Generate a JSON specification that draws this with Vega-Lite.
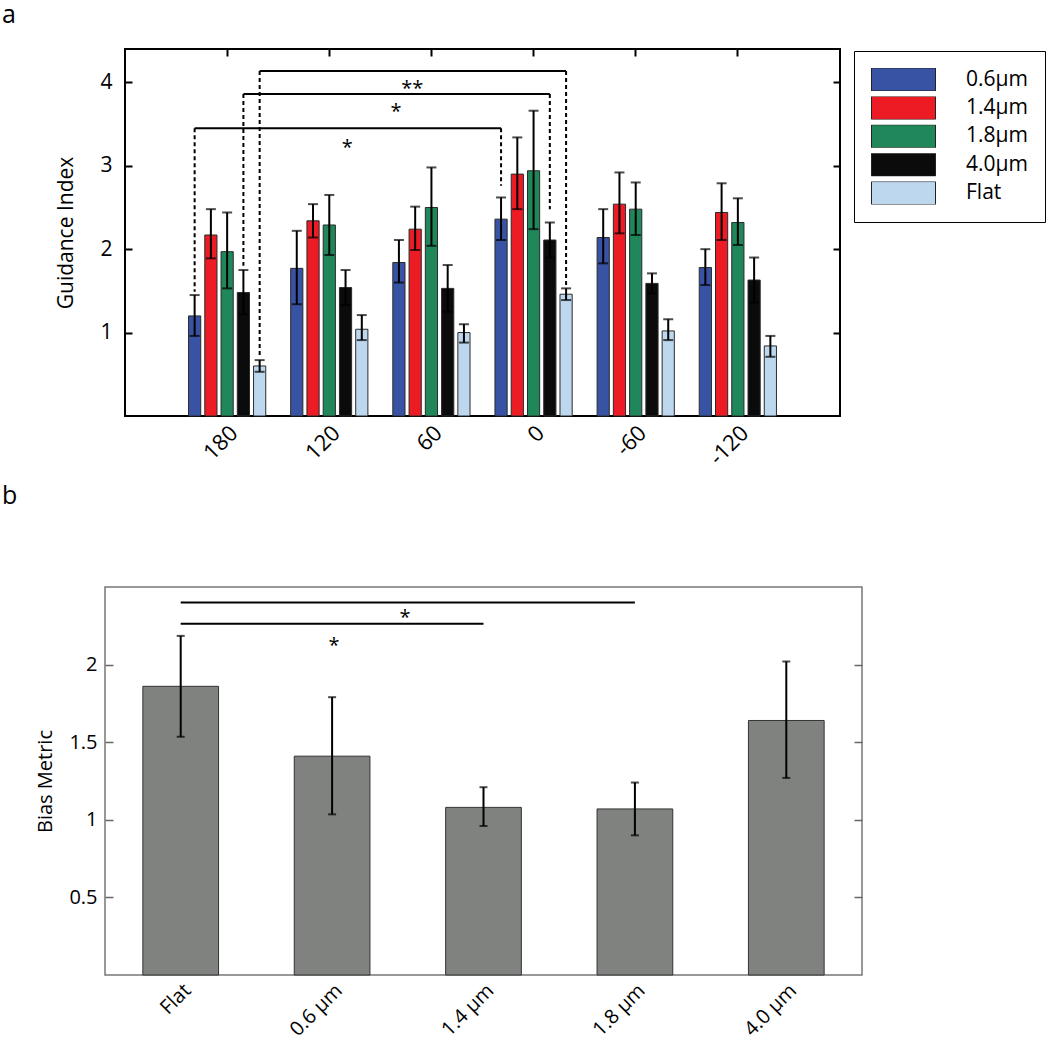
{
  "$schema": "https://vega.github.io/schema/vega-lite/v6.json",
  "padding": {"top": 2, "left": 0, "right": 0, "bottom": 0},
  "background": "white",
  "config": {
    "font": "Open Sans",
    "axis": {"labelColor": "black", "titleColor": "black", "labelFont": "Open Sans", "titleFont": "Open Sans", "titleFontWeight": "normal", "grid": false},
    "text": {"font": "Open Sans"},
    "title": {"font": "Open Sans", "fontWeight": "normal", "color": "black"}
  },
  "datasets": {
    "ga": [
      {"angle": "180", "size": "0.6μm", "gi": 1.20, "lo": 0.96, "hi": 1.45},
      {"angle": "180", "size": "1.4μm", "gi": 2.17, "lo": 1.89, "hi": 2.48},
      {"angle": "180", "size": "1.8μm", "gi": 1.97, "lo": 1.53, "hi": 2.44},
      {"angle": "180", "size": "4.0μm", "gi": 1.48, "lo": 1.22, "hi": 1.75},
      {"angle": "180", "size": "Flat", "gi": 0.60, "lo": 0.53, "hi": 0.67},
      {"angle": "120", "size": "0.6μm", "gi": 1.77, "lo": 1.34, "hi": 2.22},
      {"angle": "120", "size": "1.4μm", "gi": 2.34, "lo": 2.14, "hi": 2.54},
      {"angle": "120", "size": "1.8μm", "gi": 2.29, "lo": 1.93, "hi": 2.65},
      {"angle": "120", "size": "4.0μm", "gi": 1.54, "lo": 1.33, "hi": 1.75},
      {"angle": "120", "size": "Flat", "gi": 1.04, "lo": 0.91, "hi": 1.21},
      {"angle": "60", "size": "0.6μm", "gi": 1.84, "lo": 1.60, "hi": 2.11},
      {"angle": "60", "size": "1.4μm", "gi": 2.24, "lo": 1.99, "hi": 2.51},
      {"angle": "60", "size": "1.8μm", "gi": 2.50, "lo": 2.04, "hi": 2.98},
      {"angle": "60", "size": "4.0μm", "gi": 1.53, "lo": 1.25, "hi": 1.81},
      {"angle": "60", "size": "Flat", "gi": 1.00, "lo": 0.88, "hi": 1.10},
      {"angle": "0", "size": "0.6μm", "gi": 2.36, "lo": 2.11, "hi": 2.62},
      {"angle": "0", "size": "1.4μm", "gi": 2.90, "lo": 2.48, "hi": 3.34},
      {"angle": "0", "size": "1.8μm", "gi": 2.94, "lo": 2.24, "hi": 3.66},
      {"angle": "0", "size": "4.0μm", "gi": 2.11, "lo": 1.90, "hi": 2.32},
      {"angle": "0", "size": "Flat", "gi": 1.46, "lo": 1.39, "hi": 1.53},
      {"angle": "-60", "size": "0.6μm", "gi": 2.14, "lo": 1.83, "hi": 2.48},
      {"angle": "-60", "size": "1.4μm", "gi": 2.54, "lo": 2.19, "hi": 2.92},
      {"angle": "-60", "size": "1.8μm", "gi": 2.48, "lo": 2.17, "hi": 2.80},
      {"angle": "-60", "size": "4.0μm", "gi": 1.59, "lo": 1.47, "hi": 1.71},
      {"angle": "-60", "size": "Flat", "gi": 1.02, "lo": 0.91, "hi": 1.16},
      {"angle": "-120", "size": "0.6μm", "gi": 1.78, "lo": 1.57, "hi": 2.00},
      {"angle": "-120", "size": "1.4μm", "gi": 2.44, "lo": 2.11, "hi": 2.79},
      {"angle": "-120", "size": "1.8μm", "gi": 2.32, "lo": 2.05, "hi": 2.61},
      {"angle": "-120", "size": "4.0μm", "gi": 1.63, "lo": 1.36, "hi": 1.90},
      {"angle": "-120", "size": "Flat", "gi": 0.84, "lo": 0.71, "hi": 0.96}
    ],
    "gaLines": [
      {"id": 1, "angle": "180", "size": "0.6μm", "y": 3.45},
      {"id": 1, "angle": "0", "size": "0.6μm", "y": 3.45},
      {"id": 2, "angle": "180", "size": "4.0μm", "y": 3.86},
      {"id": 2, "angle": "0", "size": "4.0μm", "y": 3.86},
      {"id": 3, "angle": "180", "size": "Flat", "y": 4.135},
      {"id": 3, "angle": "0", "size": "Flat", "y": 4.135}
    ],
    "gaDrops": [
      {"angle": "180", "size": "0.6μm", "top": 3.45, "bottom": 1.49},
      {"angle": "0", "size": "0.6μm", "top": 3.45, "bottom": 2.76},
      {"angle": "180", "size": "4.0μm", "top": 3.86, "bottom": 1.80},
      {"angle": "0", "size": "4.0μm", "top": 3.86, "bottom": 2.48},
      {"angle": "180", "size": "Flat", "top": 4.135, "bottom": 0.72},
      {"angle": "0", "size": "Flat", "top": 4.135, "bottom": 1.56}
    ],
    "gaStars": [
      {"angle": "120", "size": "0.6μm", "y": 3.27, "t": "*"},
      {"angle": "120", "size": "4.0μm", "y": 3.71, "t": "*"},
      {"angle": "120", "size": "Flat", "y": 3.98, "t": "**"}
    ],
    "gb": [
      {"cond": "Flat", "bm": 1.86, "lo": 1.535, "hi": 2.185},
      {"cond": "0.6 µm", "bm": 1.41, "lo": 1.035, "hi": 1.79},
      {"cond": "1.4 µm", "bm": 1.08, "lo": 0.96, "hi": 1.21},
      {"cond": "1.8 µm", "bm": 1.07, "lo": 0.90, "hi": 1.24},
      {"cond": "4.0 µm", "bm": 1.64, "lo": 1.27, "hi": 2.02}
    ],
    "gbLines": [
      {"id": 1, "cond": "Flat", "y": 2.40},
      {"id": 1, "cond": "1.8 µm", "y": 2.40},
      {"id": 2, "cond": "Flat", "y": 2.264},
      {"id": 2, "cond": "1.4 µm", "y": 2.264}
    ],
    "gbStarA": [{"cond": "0.6 µm", "y": 2.335, "t": "*"}],
    "gbStarB": [{"cond": "0.6 µm", "y": 2.152, "t": "*"}],
    "empty": []
  },
  "spacing": 13,
  "vconcat": [
    {"spacing": 0, "hconcat": [
    {"width": 1, "height": 1, "data": {"name": "empty"}, "mark": "point", "view": {"stroke": null}},
    {
      "width": 715,
      "height": 367,
      "view": {"stroke": "black", "strokeWidth": 2},
      "title": {"text": "a", "anchor": "start", "frame": "group", "dx": -123, "offset": 0, "baseline": "alphabetic", "fontSize": 25},
      "resolve": {"axis": {"x": "independent", "y": "independent"}},
      "layer": [
        {
          "data": {"name": "ga"},
          "mark": {"type": "bar", "stroke": "#2a2a2a", "strokeWidth": 1},
          "encoding": {
            "x": {"field": "angle", "type": "nominal",
                  "scale": {"domain": ["180", "120", "60", "0", "-60", "-120"], "paddingInner": 0.244, "paddingOuter": 0.622},
                  "axis": {"orient": "bottom", "title": null, "labelAngle": -45, "labelFontSize": 22, "ticks": false, "domain": false, "labelPadding": 6}},
            "xOffset": {"field": "size", "type": "nominal",
                        "scale": {"domain": ["0.6μm", "1.4μm", "1.8μm", "4.0μm", "Flat"], "paddingInner": 0.25, "paddingOuter": 0}},
            "y": {"field": "gi", "type": "quantitative",
                  "scale": {"domain": [0, 4.4], "nice": false},
                  "axis": {"orient": "left", "values": [1, 2, 3, 4], "title": "Guidance Index", "titleFontSize": 21, "titlePadding": 23,
                           "tickSize": -7, "tickWidth": 2, "tickColor": "black", "domain": false, "labelFontSize": 21, "labelPadding": 20}},
            "color": {"field": "size", "type": "nominal",
                      "scale": {"domain": ["0.6μm", "1.4μm", "1.8μm", "4.0μm", "Flat"], "range": ["#3953A4", "#ED1C24", "#20875A", "#0B0B0B", "#BDD7EE"]},
                      "legend": {"orient": "none", "legendX": 854, "legendY": 2, "title": null,
                                 "symbolType": "M-1,-0.36H1V0.36H-1Z", "symbolSize": 4096, "clipHeight": 23,
                                 "symbolStrokeColor": "#222", "symbolStrokeWidth": 1, "symbolOpacity": 1,
                                 "labelFontSize": 21, "labelOffset": 30, "labelColor": "black", "labelFont": "Open Sans",
                                 "rowPadding": 5.4, "padding": 17, "strokeColor": "black"}}
          }
        },
        {
          "mark": {"type": "rule", "color": "#555", "strokeDash": [10, 5], "strokeWidth": 2},
          "encoding": {"y": {"datum": 1, "type": "quantitative", "axis": null}}
        },
        {
          "data": {"name": "ga"},
          "mark": {"type": "rule", "color": "black", "strokeWidth": 2},
          "encoding": {
            "x": {"field": "angle", "type": "nominal",
                  "axis": {"orient": "top", "title": null, "labels": false, "domain": false, "tickSize": -7, "tickWidth": 2, "tickColor": "black", "minExtent": 0, "maxExtent": 0}},
            "xOffset": {"field": "size", "type": "nominal"},
            "y": {"field": "lo", "type": "quantitative",
                  "axis": {"orient": "right", "title": null, "labels": false, "domain": false, "values": [1, 2, 3, 4], "tickSize": -7, "tickWidth": 2, "tickColor": "black", "minExtent": 0, "maxExtent": 0}},
            "y2": {"field": "hi"}
          }
        },
        {
          "data": {"name": "ga"},
          "mark": {"type": "tick", "color": "black", "size": 10, "thickness": 2},
          "encoding": {
            "x": {"field": "angle", "type": "nominal", "axis": null},
            "xOffset": {"field": "size", "type": "nominal"},
            "y": {"field": "lo", "type": "quantitative", "axis": null}
          }
        },
        {
          "data": {"name": "ga"},
          "mark": {"type": "tick", "color": "black", "size": 10, "thickness": 2},
          "encoding": {
            "x": {"field": "angle", "type": "nominal", "axis": null},
            "xOffset": {"field": "size", "type": "nominal"},
            "y": {"field": "hi", "type": "quantitative", "axis": null}
          }
        },
        {
          "data": {"name": "gaDrops"},
          "mark": {"type": "rule", "color": "black", "strokeWidth": 2, "strokeDash": [4, 3]},
          "encoding": {
            "x": {"field": "angle", "type": "nominal", "axis": null},
            "xOffset": {"field": "size", "type": "nominal"},
            "y": {"field": "top", "type": "quantitative", "axis": null},
            "y2": {"field": "bottom"}
          }
        },
        {
          "data": {"name": "gaLines"},
          "mark": {"type": "line", "color": "black", "strokeWidth": 2},
          "encoding": {
            "x": {"field": "angle", "type": "nominal", "axis": null},
            "xOffset": {"field": "size", "type": "nominal"},
            "y": {"field": "y", "type": "quantitative", "axis": null},
            "detail": {"field": "id", "type": "nominal"}
          }
        },
        {
          "data": {"name": "gaStars"},
          "mark": {"type": "text", "fontSize": 20, "dx": 50.5, "dy": 5, "baseline": "middle", "align": "center", "color": "black"},
          "encoding": {
            "x": {"field": "angle", "type": "nominal", "axis": null},
            "xOffset": {"field": "size", "type": "nominal"},
            "y": {"field": "y", "type": "quantitative", "axis": null},
            "text": {"field": "t"}
          }
        }
      ]
    }
    ]},
    {"spacing": 0, "hconcat": [
    {"width": 1, "height": 1, "data": {"name": "empty"}, "mark": "point", "view": {"stroke": null}},
    {
      "width": 757,
      "height": 388,
      "view": {"stroke": "#777", "strokeWidth": 1.5},
      "title": {"text": "b", "anchor": "start", "frame": "group", "dx": -103, "offset": 58, "baseline": "alphabetic", "fontSize": 25},
      "resolve": {"axis": {"x": "independent", "y": "independent"}},
      "layer": [
        {
          "data": {"name": "gb"},
          "mark": {"type": "bar", "color": "#808280", "stroke": "#333", "strokeWidth": 1},
          "encoding": {
            "x": {"field": "cond", "type": "nominal",
                  "scale": {"domain": ["Flat", "0.6 µm", "1.4 µm", "1.8 µm", "4.0 µm"], "paddingInner": 0.5, "paddingOuter": 0.25},
                  "axis": {"orient": "bottom", "title": null, "labelAngle": -45, "labelFontSize": 20, "ticks": false, "domain": false, "labelPadding": 5}},
            "y": {"field": "bm", "type": "quantitative",
                  "scale": {"domain": [0, 2.5], "nice": false},
                  "axis": {"orient": "left", "values": [0.5, 1, 1.5, 2], "format": "~g", "title": "Bias Metric", "titleFontSize": 20, "titlePadding": 13,
                           "tickSize": -8, "tickWidth": 1.5, "tickColor": "#666", "domain": false, "labelFontSize": 20, "labelPadding": 16}}
          }
        },
        {
          "mark": {"type": "rule", "color": "black", "strokeDash": [9, 5], "strokeWidth": 2},
          "encoding": {"y": {"datum": 1, "type": "quantitative", "axis": null}}
        },
        {
          "data": {"name": "gb"},
          "mark": {"type": "rule", "color": "black", "strokeWidth": 2},
          "encoding": {
            "x": {"field": "cond", "type": "nominal", "axis": null},
            "y": {"field": "lo", "type": "quantitative",
                  "axis": {"orient": "right", "title": null, "labels": false, "domain": false, "values": [0.5, 1, 1.5, 2], "tickSize": -8, "tickWidth": 1.5, "tickColor": "#666", "minExtent": 0, "maxExtent": 0}},
            "y2": {"field": "hi"}
          }
        },
        {
          "data": {"name": "gb"},
          "mark": {"type": "tick", "color": "black", "size": 8, "thickness": 2},
          "encoding": {
            "x": {"field": "cond", "type": "nominal", "axis": null},
            "y": {"field": "lo", "type": "quantitative", "axis": null}
          }
        },
        {
          "data": {"name": "gb"},
          "mark": {"type": "tick", "color": "black", "size": 8, "thickness": 2},
          "encoding": {
            "x": {"field": "cond", "type": "nominal", "axis": null},
            "y": {"field": "hi", "type": "quantitative", "axis": null}
          }
        },
        {
          "data": {"name": "gbLines"},
          "mark": {"type": "line", "color": "black", "strokeWidth": 2},
          "encoding": {
            "x": {"field": "cond", "type": "nominal", "axis": null},
            "y": {"field": "y", "type": "quantitative", "axis": null},
            "detail": {"field": "id", "type": "nominal"}
          }
        },
        {
          "data": {"name": "gbStarA"},
          "mark": {"type": "text", "fontSize": 20, "dx": 73, "dy": 5, "baseline": "middle", "align": "center", "color": "black"},
          "encoding": {
            "x": {"field": "cond", "type": "nominal", "axis": null},
            "y": {"field": "y", "type": "quantitative", "axis": null},
            "text": {"field": "t"}
          }
        },
        {
          "data": {"name": "gbStarB"},
          "mark": {"type": "text", "fontSize": 20, "dx": 2, "dy": 5, "baseline": "middle", "align": "center", "color": "black"},
          "encoding": {
            "x": {"field": "cond", "type": "nominal", "axis": null},
            "y": {"field": "y", "type": "quantitative", "axis": null},
            "text": {"field": "t"}
          }
        }
      ]
    }
    ]}
  ]
}
